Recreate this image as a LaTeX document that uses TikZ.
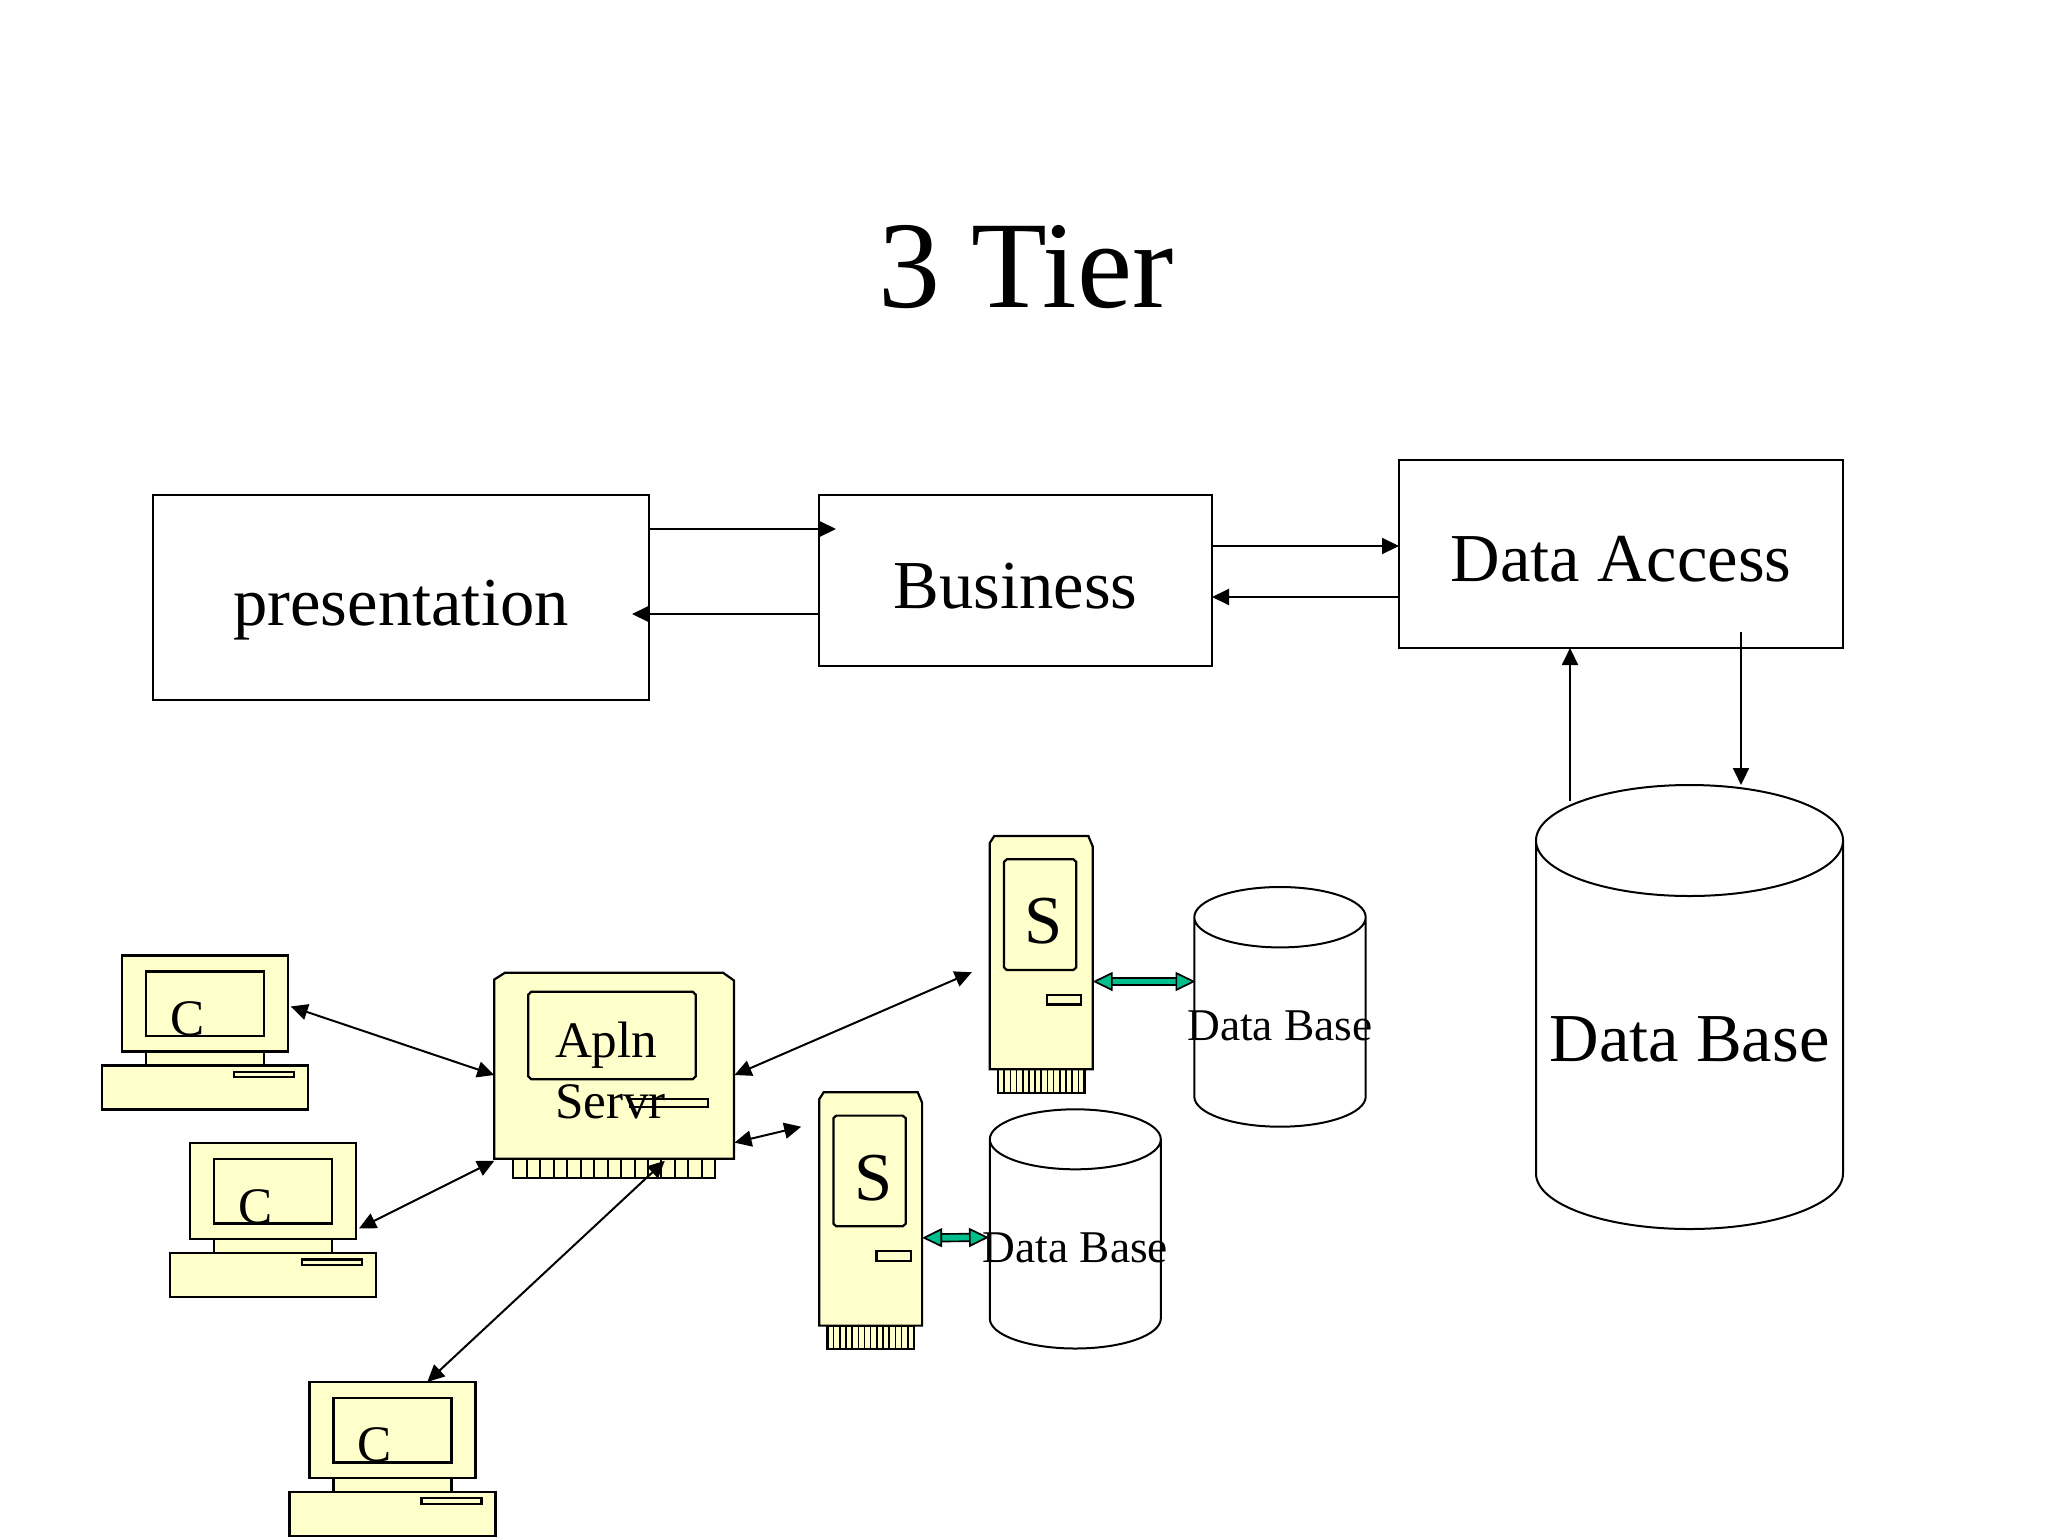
\documentclass[tikz,border=0pt]{standalone}
\usepackage{fontspec}
\setmainfont{Liberation Serif}
\usetikzlibrary{arrows.meta}
\definecolor{pcyellow}{HTML}{FFFFCC}
\definecolor{dbgreen}{HTML}{00BE8C}
\tikzset{
  x=0.5pt,y=-0.5pt,
  tierbox/.style={draw,line width=1pt,inner sep=0,outer sep=0},
  lbl/.style={inner sep=0,outer sep=0,anchor=base,font=\fontsize{34.3}{34.3}\selectfont},
  link/.style={line width=1pt,-{Triangle[length=8.5pt,width=8pt]}},
  biglink/.style={line width=1pt,{Triangle[length=8.5pt,width=8pt]}-{Triangle[length=8.5pt,width=8pt]}},
  hw/.style={draw,line width=1.1pt,fill=pcyellow},
  dbline/.style={draw,line width=1pt},
  greenlink/.style={line width=0.85pt,double=dbgreen,double distance=2.9pt,
    {Triangle[length=10pt,width=9.5pt,fill=dbgreen]}-{Triangle[length=10pt,width=9.5pt,fill=dbgreen]}},
}
% #1 name, #2 x, #3 y of monitor top-left
\newcommand{\clientpc}[3]{%
  \begin{scope}[shift={(#2,#3)}]
    \draw[hw] (-20,110) rectangle (186,154);
    \draw[hw] (24,96) rectangle (142,110);
    \draw[hw] (0,0) rectangle (166,96);
    \draw[hw] (24,16) rectangle (142,80.5);
    \draw[hw] (112,116.4) rectangle (172,121.8);
    \node[lbl,font=\fontsize{25.6}{25.6}\selectfont] at (65.5,80) {C};
    \coordinate (#1) at (83,48);
  \end{scope}}
% #1 name, #2 x, #3 y of body top-left
\newcommand{\towerpc}[3]{%
  \begin{scope}[shift={(#2,#3)}]
    \draw[hw] (8.2,233.4) rectangle (94.7,256.7);
    \foreach \i in {1,...,13} {\draw[line width=0.8pt] ({8.2+\i*6.18},233.4) -- ++(0,23.3);}
    \draw[hw] (0,7) -- (4.5,0) -- (98.5,0) -- (102.9,10.5) -- (102.9,233.4) -- (0,233.4) -- cycle;
    \draw[hw] (14.2,26) -- (17,23.4) -- (83.5,23.4) -- (86.5,26) -- (86.5,131.5) -- (83.5,134.1) -- (17,134.1) -- (14.2,131.5) -- cycle;
    \draw[hw] (57.2,158.9) rectangle (91.4,168.5);
    \node[lbl] at (54,107.8) {S};
    \coordinate (#1) at (51.5,116);
    \coordinate (#1 e) at (102.9,145.6);
  \end{scope}}
% #1 name, #2 cx, #3 top y, #4 bottom y, #5 rx, #6 ry, #7 font size, #8 baseline dy
\newcommand{\dbcyl}[8]{%
  \draw[dbline] ({#2-#5},{#3+#6}) -- ({#2-#5},{#4-#6})
    arc[start angle=180,end angle=360,x radius=#5,y radius=-#6]
    -- ({#2+#5},{#3+#6})
    arc[start angle=0,end angle=180,x radius=#5,y radius=#6]
    arc[start angle=180,end angle=360,x radius=#5,y radius=#6];
  \node[lbl,font=\fontsize{#7}{#7}\selectfont] (#1) at (#2,{(#3+#4)/2+#8}) {Data Base};
}
\begin{document}
\begin{tikzpicture}
\useasboundingbox (0,0) rectangle (2048,1536);
\fill[white] (0,0) rectangle (2048,1536);

\node[lbl,font=\fontsize{62}{62}\selectfont] (title) at (1026,307) {3 Tier};

% top row boxes
\node[tierbox,minimum width=248pt,minimum height=102.5pt] (pres) at (401,597.5) {};
\node[tierbox,minimum width=196.5pt,minimum height=85.5pt] (bus) at (1015.5,580.5) {};
\node[tierbox,minimum width=222pt,minimum height=94pt] (da) at (1621,554) {};
\node[lbl] at (401,625) {presentation};
\node[lbl] at (1015.5,608) {Business};
\node[lbl] at (1621,581.5) {Data Access};

% databases
\dbcyl{bigdb}{1689.5}{785}{1229}{153.5}{55.5}{34.3}{54.5}
\dbcyl{dbone}{1280}{887}{1126.7}{85.7}{30.2}{22.7}{33.5}
\dbcyl{dbtwo}{1075.3}{1109.3}{1348.5}{85.5}{30}{22.7}{33.5}

% clients
\clientpc{pcone}{122}{955.5}
\clientpc{pctwo}{189.8}{1143}
\clientpc{pcthree}{309.5}{1381.9}

% application server
\draw[hw] (513.3,1158.7) rectangle (715.3,1178);
\foreach \i in {1,...,14} {\draw[line width=1pt] ({513.3+\i*13.47},1158.7) -- ++(0,19.3);}
\draw[hw] (494.3,979.5) -- (505,972.7) -- (723,972.7) -- (734,980.5) -- (734,1158.7) -- (494.3,1158.7) -- cycle;
\draw[hw] (528.3,994.7) -- (531.3,991.7) -- (692.7,991.7) -- (695.7,994.7) -- (695.7,1076.3) -- (692.7,1079.3) -- (531.3,1079.3) -- (528.3,1076.3) -- cycle;
\draw[hw] (630,1099) rectangle (708,1107);
\node[anchor=base west,inner sep=0,outer sep=0,align=left,font=\fontsize{25.6}{30.85}\selectfont] (apln) at (555,1118.7) {Apln\\Servr};
\coordinate (appsrv) at (614,1065);

% servers
\towerpc{srvone}{989.8}{835.9}
\towerpc{srvtwo}{819.2}{1092.2}

% top row connectors
\coordinate (pres a) at (pres.east |- 0,529);
\coordinate (bus a) at (836,529);
\coordinate (bus b) at (bus.west |- 0,614);
\coordinate (pres b) at (632,614);
\draw[link] (pres a) -- (bus a);
\draw[link] (bus b) -- (pres b);
\draw[link] (bus.east |- 0,546) -- (da.west |- 0,546);
\draw[link] (da.west |- 0,597) -- (bus.east |- 0,597);
\coordinate (dbup) at (1570,801);
\coordinate (dadown) at (1741,632);
\draw[link] (dbup) -- (dbup |- da.south);
\draw[link] (dadown) -- (1741,785);

% client links
\coordinate (pcone e) at (290.7,1006.5);
\coordinate (srv w1) at (494.3,1075);
\coordinate (pctwo e) at (359,1228.4);
\coordinate (srv w2) at (494.3,1160.8);
\coordinate (pcthree n) at (427.3,1381.9);
\coordinate (srv s) at (664.8,1160.8);
\coordinate (srv e1) at (734.5,1075);
\coordinate (srvone w) at (971.8,972.2);
\coordinate (srv e2) at (734.5,1142.6);
\coordinate (srvtwo w) at (801.2,1126.7);
\draw[biglink] (pcone e) -- (srv w1);
\draw[biglink] (pctwo e) -- (srv w2);
\draw[biglink] (pcthree n) -- (srv s);
\draw[biglink] (srv e1) -- (srvone w);
\draw[biglink] (srv e2) -- (srvtwo w);

% green links
\coordinate (dbone w) at (1195.5,981.5);
\coordinate (dbtwo w) at (989,1237.4);
\draw[greenlink] (srvone e) -- (dbone w);
\draw[greenlink] (srvtwo e) -- (dbtwo w);
\end{tikzpicture}
\end{document}
